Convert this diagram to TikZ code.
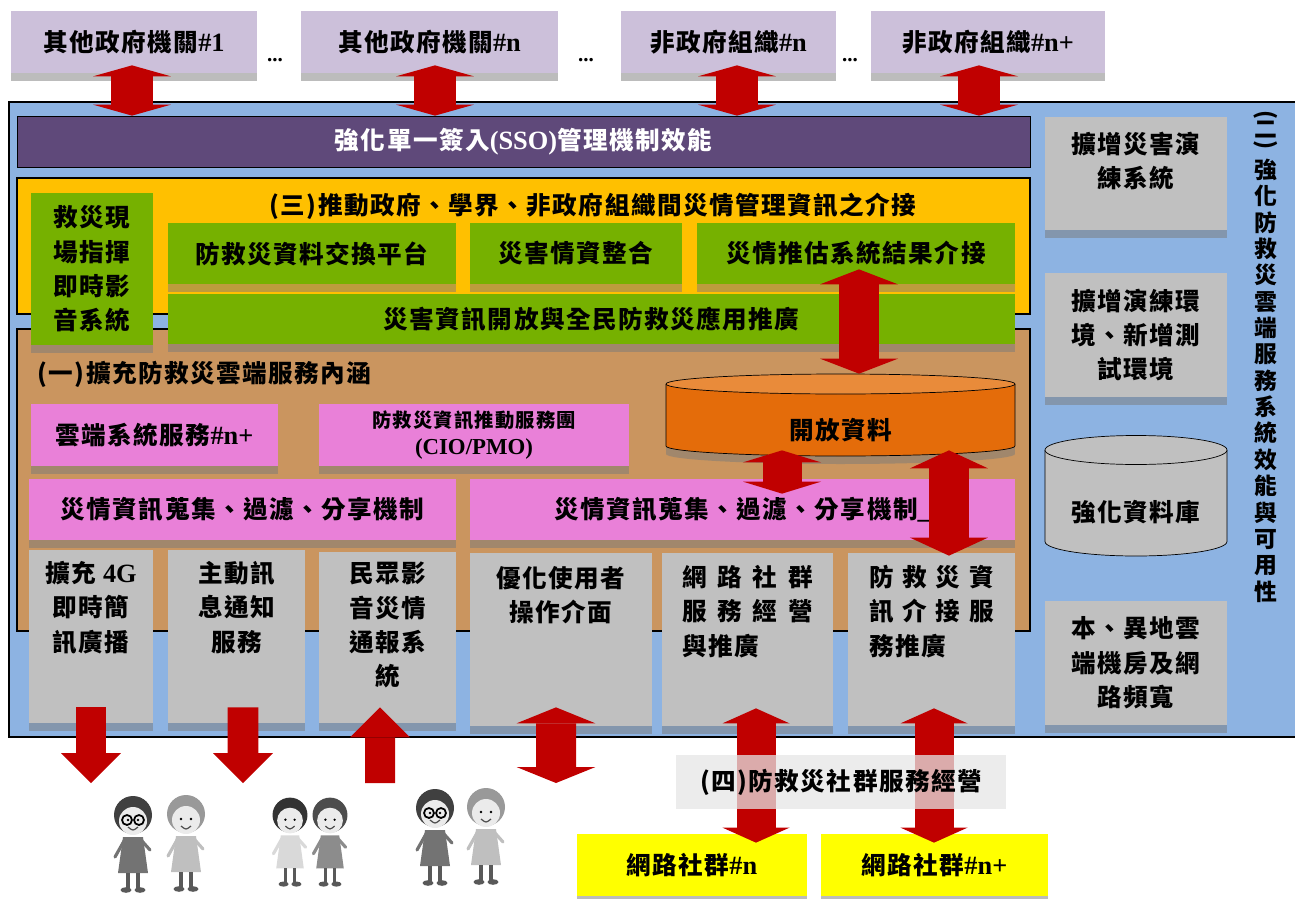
\documentclass[tikz,border=0pt]{standalone}
\usepackage{fontspec}
\setmainfont{Liberation Serif}
\newfontfamily\cjk{Noto Sans CJK TC}[LetterSpace=6]
\usetikzlibrary{arrows.meta,shadows}

\definecolor{orglilac}{HTML}{CCC0DA}
\definecolor{panelblue}{HTML}{8DB3E2}
\definecolor{ssopurple}{HTML}{5F497A}
\definecolor{mgmtgold}{HTML}{FFC000}
\definecolor{leafgreen}{HTML}{76B100}
\definecolor{cloudtan}{HTML}{CA955F}
\definecolor{svcpink}{HTML}{E980D8}
\definecolor{boxgray}{HTML}{C0C0C0}
\definecolor{dataorange}{HTML}{E46C0A}
\definecolor{datatop}{HTML}{E98B3A}
\definecolor{flowred}{HTML}{C00000}
\definecolor{groupyellow}{HTML}{FFFF00}

% latin parts in Times-like bold
\newcommand\lat[1]{{\rmfamily\fontsize{15}{19.6}\selectfont #1}}
% parenthesis turned for vertical text
\newcommand\vparen[1]{\rotatebox[origin=c]{-90}{#1}}

\tikzset{
	tag/.style={inner sep=0pt, align=center, font=\cjk\bfseries\fontsize{14}{19.6}\selectfont},
	wh/.style 2 args={minimum width=#1*0.02cm, minimum height=#2*0.02cm},
	lift/.style={drop shadow={shadow xshift=0cm, shadow yshift=-0.16cm, fill=black!52, opacity=.5}},
	flow/.style={draw=flowred, line width=#1},
	link/.style={flow=0.84cm, >={Triangle[width=1.56cm,length=0.22cm,line width=0pt]}, <->},
	pics/kid/.style n args={3}{code={
		\fill[#2] (-10,21) -- (10,21) -- (15,57) -- (-15,57) -- cycle;
		\draw[#2, line width=1.8pt, line cap=round] (-9,25) -- (-18,41) (9,25) -- (17,34);
		\draw[black!65, line width=2pt] (-5,57) -- (-5,72) (5,57) -- (5,72);
		\fill[black!65] (-7,74) ellipse[x radius=5.5, y radius=2.8] (7,74) ellipse[x radius=5.5, y radius=2.8];
		\fill[#1] (0,-1) circle[radius=19];
		\fill[black!8] (0,5) circle[radius=14];
		\fill[black] (-5,4) circle[radius=1.4] (5,4) circle[radius=1.4];
		\draw[black!70, line width=.7pt] (-5,11) .. controls (0,15) .. (5,11);
		\draw[#3, line width=1pt] (-6,4) circle[radius=5] (6,4) circle[radius=5];
	}},
}

\begin{document}
\begin{tikzpicture}[x=0.02cm,y=-0.02cm]
	\useasboundingbox (0,0) rectangle (1295,899);
	
	% partner agencies and NGOs
	\path
	(134,42)   node[tag, wh={246}{62}, fill=orglilac, lift] (gov1) {其他政府機關\lat{\#1}}
	(275,60)   node[font=\rmfamily\bfseries\fontsize{12}{14}\selectfont] (dots1) {...}
	(429.5,42) node[tag, wh={257}{62}, fill=orglilac, lift] (gov2) {其他政府機關\lat{\#n}}
	(586,60)   node[font=\rmfamily\bfseries\fontsize{12}{14}\selectfont] (dots2) {...}
	(728.5,42) node[tag, wh={215}{62}, fill=orglilac, lift] (ngo1) {非政府組織\lat{\#n}}
	(850,60)   node[font=\rmfamily\bfseries\fontsize{12}{14}\selectfont] (dots3) {...}
	(988,42)   node[tag, wh={234}{62}, fill=orglilac, lift] (ngo2) {非政府組織\lat{\#n+}};
	
	% cloud platform
	\node[wh={1288}{635}, fill=panelblue, draw=black, line width=1.1pt] (platform) at (653,419.5) {};
	\node[tag, wh={1013}{51}, fill=ssopurple, draw=black, text=white] (sso) at (523.5,141.5) {強化單一簽入\lat{(SSO)}管理機制效能};
	
	% (三) exchange layer
	\node[wh={1013}{136}, fill=mgmtgold, draw=black, line width=1.1pt] (mgmt) at (523.5,246) {};
	\node[tag] (mgmttitle) at (593,206) {(三)推動政府、學界、非政府組織間災情管理資訊之介接};
	
	% (一) cloud services layer
	\node[wh={1013}{302}, fill=cloudtan, draw=black, line width=1.1pt] (services) at (523.5,480) {};
	\node[tag, anchor=west] (svctitle) at (37,374) {(一)擴充防救災雲端服務內涵};
	
	\node[tag, wh={122}{152}, fill=leafgreen, lift] (scene) at (92,269) {救災現\\場指揮\\即時影\\音系統};
	\node[tag, wh={288}{61}, fill=leafgreen, lift] (exchange) at (312,253.5) {防救災資料交換平台};
	\node[tag, wh={212}{61}, fill=leafgreen, lift] (merge) at (576,253.5) {災害情資整合};
	\node[tag, wh={318}{61}, fill=leafgreen, lift] (impact) at (856,253.5) {災情推估系統結果介接};
	\node[tag, wh={847}{50}, fill=leafgreen, lift] (opendoor) at (591.5,319) {災害資訊開放與全民防救災應用推廣};
	
	\node[tag, wh={247}{62}, fill=svcpink, lift] (cloudsvc) at (154.5,435) {雲端系統服務\lat{\#n+}};
	\node[tag, wh={310}{62}, fill=svcpink, lift, font=\cjk\bfseries\fontsize{11}{15.4}\selectfont] (cio) at (474,435)
	{防救災資訊推動服務團\\{\rmfamily\fontsize{13}{15.4}\selectfont(CIO/PMO)}};
	\node[tag, wh={427}{61}, fill=svcpink, lift] (share1) at (242.5,509.5) {災情資訊蒐集、過濾、分享機制};
	\node[tag, wh={545}{61}, fill=svcpink, lift] (share2) at (742.5,509.5) {災情資訊蒐集、過濾、分享機制\lat{\_}};
	
	% open data store
	\fill[black!52, opacity=.5] (666,392) -- (666,454) arc[start angle=180, end angle=360, x radius=3.49cm, y radius=0.2cm] -- (1015,392) -- cycle;
	\draw[fill=dataorange] (666,384) -- (666,446) arc[start angle=180, end angle=360, x radius=3.49cm, y radius=0.2cm] -- (1015,384);
	\draw[fill=datatop] (840.5,384) ellipse[x radius=3.49cm, y radius=0.2cm];
	\node[wh={349}{82}, label={[tag, yshift=-0.3cm]center:開放資料}] (opendata) at (840.5,415) {};
	
	% front-end services
	\node[wh={124}{173}, fill=boxgray, lift, label={[tag, anchor=north, yshift=-0.22cm]north:{擴充 \lat{4G}\\即時簡\\訊廣播}}] (sms) at (91,636.5) {};
	\node[wh={137}{173}, fill=boxgray, lift, label={[tag, anchor=north, yshift=-0.22cm]north:{主動訊\\息通知\\服務}}] (push) at (236.5,636.5) {};
	\node[wh={137}{171}, fill=boxgray, lift, label={[tag, anchor=north, yshift=-0.2cm]north:{民眾影\\音災情\\通報系\\統}}] (report) at (387.5,637.5) {};
	\node[wh={182}{173}, fill=boxgray, lift, label={[tag, anchor=north, yshift=-0.26cm]north:{優化使用者\\操作介面}}] (ui) at (561,639.5) {};
	\node[wh={171}{173}, fill=boxgray, lift, label={[tag, align=left, anchor=north, yshift=-0.24cm]north:{\makebox[2.62cm]{網\hfill 路\hfill 社\hfill 群}\\\makebox[2.62cm]{服\hfill 務\hfill 經\hfill 營}\\與推廣}}] (community) at (747.5,639.5) {};
	\node[wh={167}{173}, fill=boxgray, lift, label={[tag, align=left, anchor=north, yshift=-0.24cm]north:{\makebox[2.5cm]{防\hfill 救\hfill 災\hfill 資}\\\makebox[2.5cm]{訊\hfill 介\hfill 接\hfill 服}\\務推廣}}] (liaison) at (931.5,639.5) {};
	
	% (二) platform performance column
	\node[wh={182}{113}, fill=boxgray, lift, label={[tag, anchor=north, yshift=-0.3cm]north:{擴增災害演\\練系統}}] (drill) at (1136,173.5) {};
	\node[tag, wh={182}{124}, fill=boxgray, lift] (testenv) at (1136,335) {擴增演練環\\境、新增測\\試環境};
	\draw[fill=boxgray] (1045,450) -- (1045,541.5) arc[start angle=180, end angle=360, x radius=1.82cm, y radius=0.29cm] -- (1227,450);
	\draw[fill=boxgray] (1136,450) ellipse[x radius=1.82cm, y radius=0.29cm];
	\node[wh={182}{120}, label={[tag, yshift=-0.32cm]center:強化資料庫}] (store) at (1136,496) {};
	\node[tag, wh={182}{124}, fill=boxgray, lift] (backup) at (1136,663) {本、異地雲\\端機房及網\\路頻寬};
	\node[tag, anchor=north, font=\cjk\bfseries\fontsize{13}{15}\selectfont] (perf) at (1266,110)
	{\vparen{(}\\[-6.5pt]二\\[-6.5pt]\vparen{)}\\強\\化\\防\\救\\災\\雲\\端\\服\\務\\系\\統\\效\\能\\與\\可\\用\\性};
	
	% social groups
	\node[tag, wh={230}{62}, fill=groupyellow, lift] (group1) at (692,865) {網路社群\lat{\#n}};
	\node[tag, wh={227}{62}, fill=groupyellow, lift] (group2) at (934.5,865) {網路社群\lat{\#n+}};
	
	\coordinate (crowdA) at (91,783);
	\coordinate (crowdB) at (243,783);
	\coordinate (crowdC) at (380,783);
	\coordinate (crowdD) at (556,783);
	
	% exchange arrows
	\draw[link, shorten <=-0.16cm] ([xshift=-0.04cm]gov1.south) -- ([xshift=-0.04cm]gov1.south |- sso.north);
	\draw[link, shorten <=-0.16cm] ([xshift=0.11cm]gov2.south) -- ([xshift=0.11cm]gov2.south |- sso.north);
	\draw[link, shorten <=-0.16cm] ([xshift=0.17cm]ngo1.south) -- ([xshift=0.17cm]ngo1.south |- sso.north);
	\draw[link, shorten <=-0.16cm] ([xshift=-0.18cm]ngo2.south) -- ([xshift=-0.18cm]ngo2.south |- sso.north);
	
	\draw[flow=0.8cm, >={Triangle[width=1.56cm,length=0.3cm,line width=0pt]}, <->, shorten <=-0.3cm]
	([xshift=0.06cm]impact.south) -- ([xshift=0.06cm]impact.south |- opendata.north);
	\draw[flow=0.78cm, >={Triangle[width=1.56cm,length=0.24cm,line width=0pt]}, <->, shorten <=-0.12cm, shorten >=-0.3cm]
	([xshift=-1.17cm]opendata.south) -- ([xshift=-1.17cm]opendata.south |- share2.north);
	\draw[flow=0.8cm, >={Triangle[width=1.56cm,length=0.36cm,line width=0pt]}, <->, shorten <=-0.12cm, shorten >=-0.06cm]
	([xshift=2.17cm]opendata.south) -- ([xshift=2.17cm]opendata.south |- liaison.north);
	
	\draw[flow=0.62cm, >={Triangle[width=1.2cm,length=0.6cm,line width=0pt]}, ->, shorten <=-0.32cm] (sms.south) -- (crowdA);
	\draw[flow=0.62cm, >={Triangle[width=1.2cm,length=0.6cm,line width=0pt]}, ->, shorten <=-0.32cm] ([xshift=0.13cm]push.south) -- (crowdB);
	\draw[flow=0.6cm, >={Triangle[width=1.2cm,length=0.6cm,line width=0pt]}, ->, shorten >=-0.32cm] (crowdC) -- ([xshift=-0.15cm]report.south);
	\draw[flow=0.8cm, >={Triangle[width=1.58cm,length=0.32cm,line width=0pt]}, <->, shorten <=-0.38cm] ([xshift=-0.1cm]ui.south) -- (crowdD);
	
	\draw[flow=0.78cm, >={Triangle[width=1.34cm,length=0.3cm,line width=0pt]}, <->, shorten <=-0.36cm, shorten >=-0.18cm]
	([xshift=0.17cm]community.south) -- ([xshift=0.17cm]community.south |- group1.north);
	\draw[flow=0.78cm, >={Triangle[width=1.34cm,length=0.3cm,line width=0pt]}, <->, shorten <=-0.36cm, shorten >=-0.18cm]
	([xshift=0.05cm]liaison.south) -- ([xshift=0.05cm]liaison.south |- group2.north);
	
	% (四) label over the arrows
	\node[tag, wh={330}{54}, fill=black!10, fill opacity=.75, text opacity=1] (social) at (841,782) {(四)防救災社群服務經營};
	
	% people
	\pic at (133,816) {kid={black!75}{black!55}{draw=black}};
	\pic at (186,815) {kid={black!40}{black!25}{draw=none}};
	\pic[scale=.92] at (290,816) {kid={black!80}{black!15}{draw=none}};
	\pic[scale=.92] at (330,816) {kid={black!70}{black!45}{draw=none}};
	\pic at (435,809) {kid={black!75}{black!55}{draw=black}};
	\pic at (486,808) {kid={black!40}{black!25}{draw=none}};
\end{tikzpicture}
\end{document}
